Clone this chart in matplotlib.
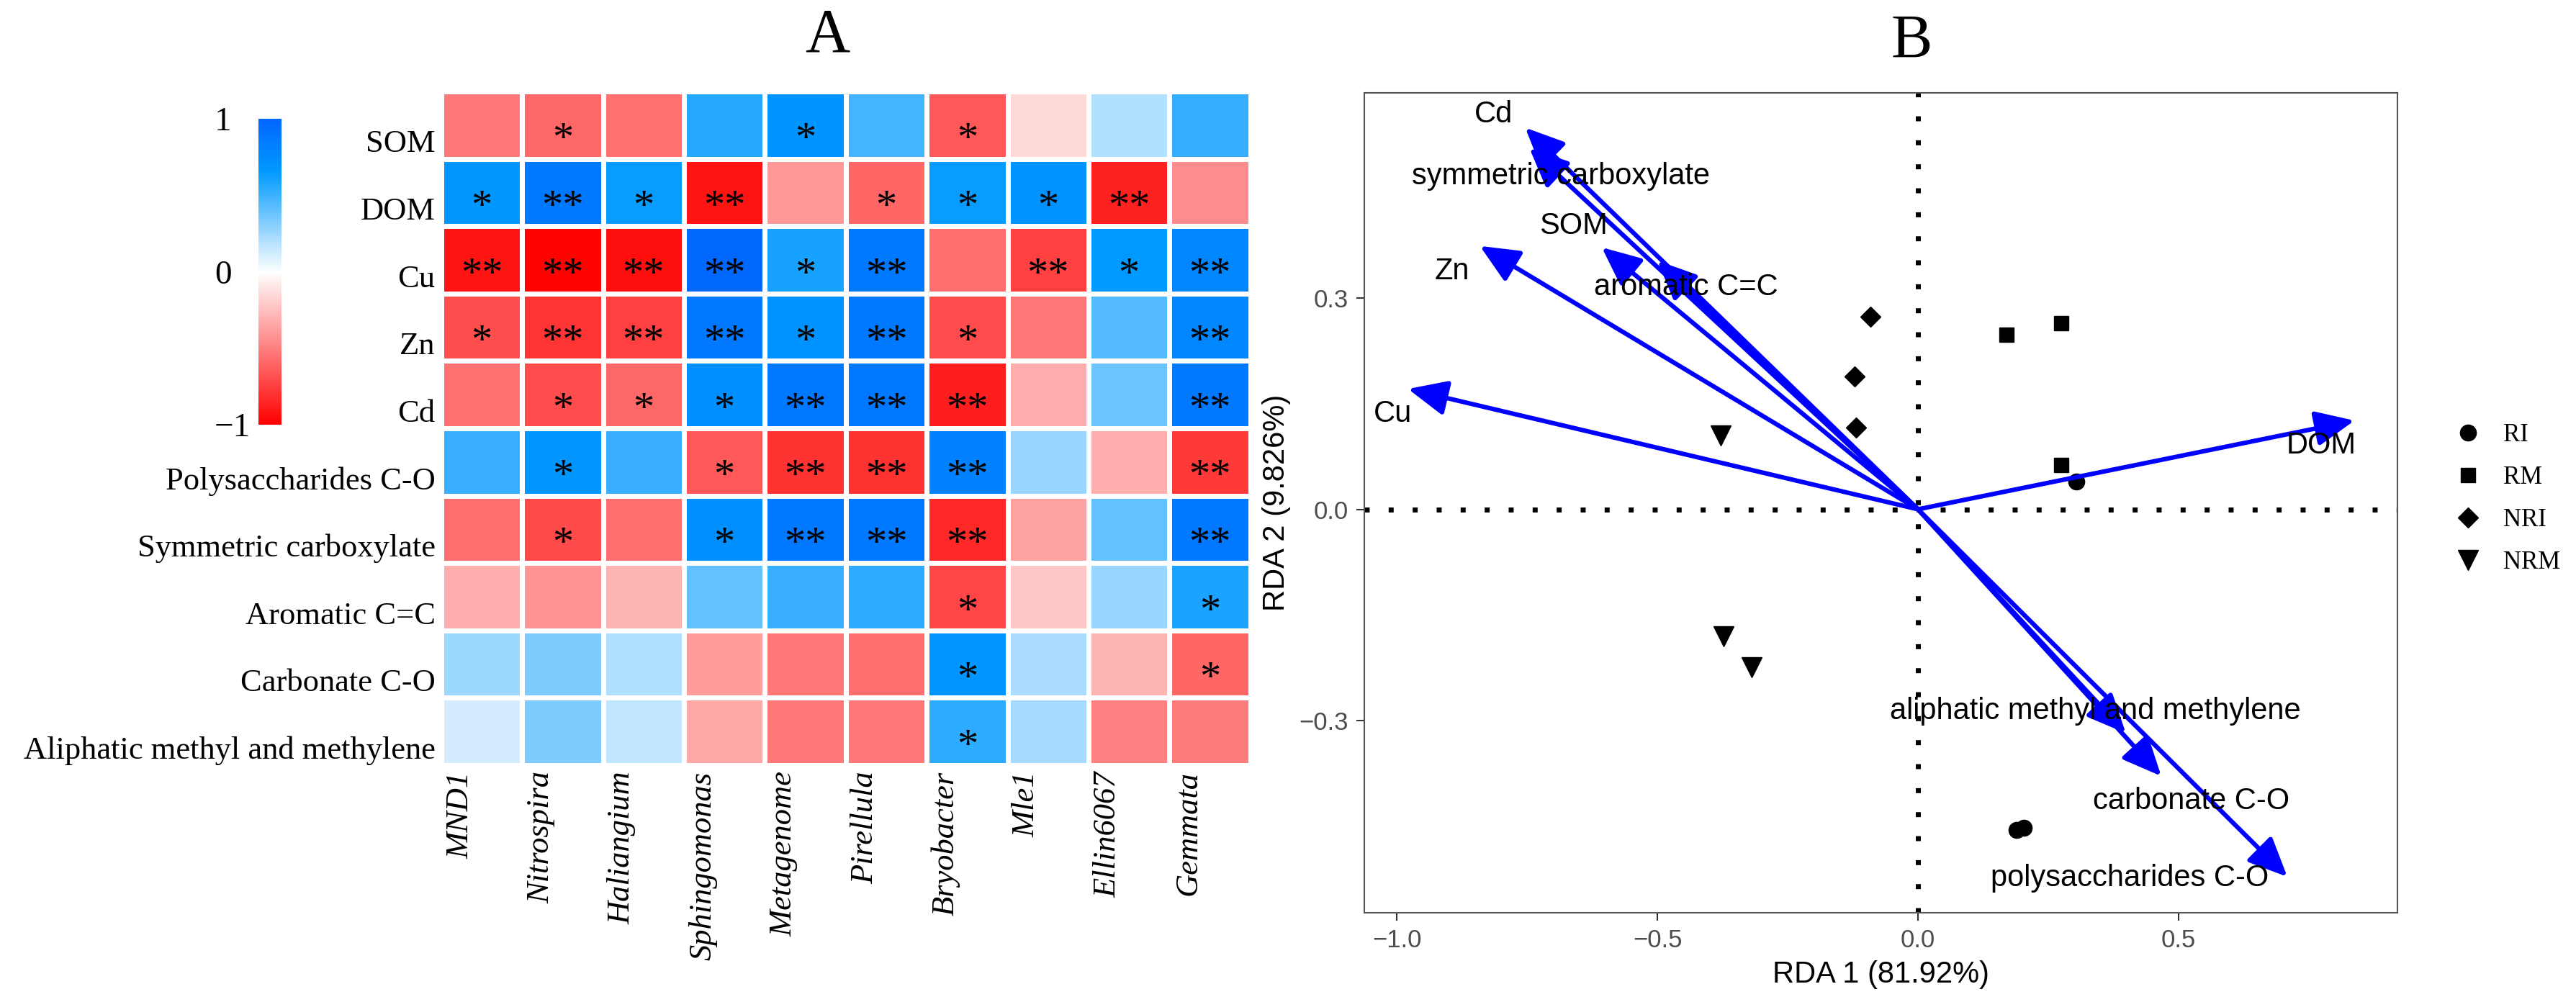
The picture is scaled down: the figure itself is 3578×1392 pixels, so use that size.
import numpy as np
import matplotlib
matplotlib.use('Agg')
import matplotlib.pyplot as plt
from matplotlib.colors import LinearSegmentedColormap
from matplotlib.transforms import ScaledTranslation
from matplotlib.lines import Line2D

# ---------------- panel A data: correlation heatmap ----------------
factors = ['SOM', 'DOM', 'Cu', 'Zn', 'Cd', 'Polysaccharides C-O', 'Symmetric carboxylate',
           'Aromatic C=C', 'Carbonate C-O', 'Aliphatic methyl and methylene']
genera = ['MND1', 'Nitrospira', 'Haliangium', 'Sphingomonas', 'Metagenome', 'Pirellula',
          'Bryobacter', 'Mle1', 'Ellin6067', 'Gemmata']
corr = np.array([
    [-0.53, -0.59, -0.56, 0.56, 0.69, 0.48, -0.65, -0.15, 0.20, 0.52],
    [0.67, 0.88, 0.64, -0.92, -0.40, -0.60, 0.64, 0.70, -0.87, -0.45],
    [-0.92, -0.99, -0.94, 0.98, 0.60, 0.88, -0.57, -0.75, 0.66, 0.78],
    [-0.69, -0.79, -0.75, 0.88, 0.71, 0.88, -0.70, -0.53, 0.44, 0.78],
    [-0.56, -0.70, -0.59, 0.72, 0.88, 0.88, -0.88, -0.32, 0.38, 0.88],
    [0.51, 0.68, 0.51, -0.65, -0.80, -0.80, 0.82, 0.26, -0.32, -0.78],
    [-0.57, -0.71, -0.57, 0.72, 0.88, 0.88, -0.84, -0.36, 0.40, 0.88],
    [-0.32, -0.42, -0.29, 0.40, 0.51, 0.54, -0.72, -0.22, 0.26, 0.59],
    [0.25, 0.33, 0.21, -0.39, -0.53, -0.57, 0.68, 0.22, -0.29, -0.60],
    [0.11, 0.33, 0.16, -0.34, -0.53, -0.53, 0.54, 0.23, -0.50, -0.51],
])
stars = [
    ['', '*', '', '', '*', '', '*', '', '', ''],
    ['*', '**', '*', '**', '', '*', '*', '*', '**', ''],
    ['**', '**', '**', '**', '*', '**', '', '**', '*', '**'],
    ['*', '**', '**', '**', '*', '**', '*', '', '', '**'],
    ['', '*', '*', '*', '**', '**', '**', '', '', '**'],
    ['', '*', '', '*', '**', '**', '**', '', '', '**'],
    ['', '*', '', '*', '**', '**', '**', '', '', '**'],
    ['', '', '', '', '', '', '*', '', '', '*'],
    ['', '', '', '', '', '', '*', '', '', '*'],
    ['', '', '', '', '', '', '*', '', '', ''],
]

# ---------------- panel B data: RDA biplot ----------------
env_names = ['Cd', 'symmetric carboxylate', 'SOM', 'Zn', 'aromatic C=C', 'Cu', 'DOM',
             'aliphatic methyl and methylene', 'carbonate C-O', 'polysaccharides C-O']
env_x = [-0.754, -0.746, -0.607, -0.841, -0.500, -0.979, 0.838, 0.399, 0.467, 0.709]
env_y = [0.542, 0.513, 0.372, 0.374, 0.353, 0.171, 0.126, -0.318, -0.379, -0.522]
lab_x = [-0.815, -0.686, -0.661, -0.894, -0.446, -1.008, 0.774, 0.340, 0.524, 0.407]
lab_y = [0.561, 0.473, 0.402, 0.338, 0.315, 0.135, 0.090, -0.287, -0.415, -0.524]

ri_x = [0.304, 0.189, 0.203]
ri_y = [0.039, -0.455, -0.452]
rm_x = [0.170, 0.275, 0.275]
rm_y = [0.248, 0.264, 0.063]
nri_x = [-0.091, -0.121, -0.119]
nri_y = [0.274, 0.189, 0.116]
nrm_x = [-0.379, -0.373, -0.319]
nrm_y = [0.105, -0.180, -0.224]

serif = 'Liberation Serif'
sans = 'Liberation Sans'

fig = plt.figure(figsize=(35.78, 13.92), dpi=100)

# ---------------- heatmap ----------------
cmap = LinearSegmentedColormap.from_list(
    'rwb', [(0.0, '#FF0000'), (0.5, '#FFFFFF'), (0.83, '#0099FF'), (1.0, '#0066FF')])

ax = fig.add_axes([0.1713, 0.2363, 0.3141, 0.6724])
nr, nc = corr.shape
mesh = ax.pcolormesh(corr, cmap=cmap, vmin=-1, vmax=1, edgecolors='white', linewidth=5)
ax.set_xlim(0, nc)
ax.set_ylim(nr, 0)
for s in ax.spines.values():
    s.set_visible(False)
for i in range(nr):
    for j in range(nc):
        if stars[i][j]:
            ax.text(j + 0.5, i + 0.5 + 0.38, stars[i][j], ha='center', va='baseline',
                    fontsize=42, family=serif, color='black')

ax.set_yticks(np.arange(nr) + 0.5)
ax.set_yticklabels(factors, fontsize=32, family=serif)
ax.set_xticks(np.arange(nc) + 0.5)
ax.set_xticklabels(genera, fontsize=32, family=serif, style='italic', rotation=90, va='top')
ax.tick_params(length=0, pad=6)
for lab in ax.get_yticklabels():
    lab.set_transform(lab.get_transform() + ScaledTranslation(0, -0.22, fig.dpi_scale_trans))
for lab in ax.get_xticklabels():
    lab.set_transform(lab.get_transform() + ScaledTranslation(-0.30, 0, fig.dpi_scale_trans))

cax = fig.add_axes([0.1003, 0.5761, 0.00894, 0.3053])
cb = fig.colorbar(mesh, cax=cax)
cb.outline.set_visible(False)
cb.set_ticks([-1, 0, 1])
cb.set_ticklabels(['\u22121', '0', '1'])
cax.yaxis.set_ticks_position('left')
cax.tick_params(length=0, pad=44, labelsize=34)
for lab in cax.get_yticklabels():
    lab.set_family(serif)
    lab.set_ha('left')

fig.text(1149 / 3578, 1 - 51 / 1392, 'A', ha='center', va='center', fontsize=62, family=serif)
fig.text(2655 / 3578, 1 - 59 / 1392, 'B', ha='center', va='center', fontsize=62, family=serif)

# ---------------- RDA biplot ----------------
bx = fig.add_axes([0.5296, 0.0891, 0.4011, 0.8179])
bx.set_xlim(-1.063, 0.9205)
bx.set_ylim(-0.573, 0.591)
bx.axhline(0, color='black', lw=5, ls=(0, (1, 3.8)), zorder=1)
bx.axvline(0, color='black', lw=5, ls=(0, (1, 3.8)), zorder=1)

bx.plot(ri_x, ri_y, ls='none', marker='o', ms=16, color='black', zorder=2)
bx.plot(rm_x, rm_y, ls='none', marker='s', ms=14, color='black', zorder=2)
bx.plot(nri_x, nri_y, ls='none', marker='D', ms=14, color='black', zorder=2)
bx.plot(nrm_x, nrm_y, ls='none', marker='v', ms=20, color='black', zorder=2)

for name, ex, ey, tx, ty in zip(env_names, env_x, env_y, lab_x, lab_y):
    bx.annotate('', xy=(ex, ey), xytext=(0, 0),
                arrowprops=dict(arrowstyle='-|>,head_length=0.6,head_width=0.27',
                                color='#0000FF', lw=4.5, mutation_scale=55,
                                shrinkA=0, shrinkB=0), zorder=3)
    bx.text(tx, ty, name, ha='center', va='center', fontsize=30, family=sans,
            color='black', zorder=4)

bx.set_xticks([-1.0, -0.5, 0.0, 0.5])
bx.set_yticks([-0.3, 0.0, 0.3])
bx.tick_params(colors='#333333', labelcolor='#4D4D4D', labelsize=25, length=8, width=1.5, pad=8)
for lab in bx.get_xticklabels() + bx.get_yticklabels():
    lab.set_family(sans)
for s in bx.spines.values():
    s.set_color('#555555')
    s.set_linewidth(1.5)
bx.set_xlabel('RDA 1 (81.92%)', fontsize=30, family=sans, labelpad=8)
bx.set_ylabel('RDA 2 (9.826%)', fontsize=30, family=sans, labelpad=8)

handles = [
    Line2D([], [], ls='none', marker='o', ms=16, color='black'),
    Line2D([], [], ls='none', marker='s', ms=14, color='black'),
    Line2D([], [], ls='none', marker='D', ms=14, color='black'),
    Line2D([], [], ls='none', marker='v', ms=20, color='black'),
]
fig.legend(handles, ['RI', 'RM', 'NRI', 'NRM'], loc='upper left',
           bbox_to_anchor=(3411 / 3578, 1 - 588 / 1392), frameon=False,
           prop={'family': serif, 'size': 25}, handlelength=1.0, handletextpad=0.9,
           labelspacing=0.75, borderpad=0, borderaxespad=0)

fig.savefig('out.png', dpi=100)
